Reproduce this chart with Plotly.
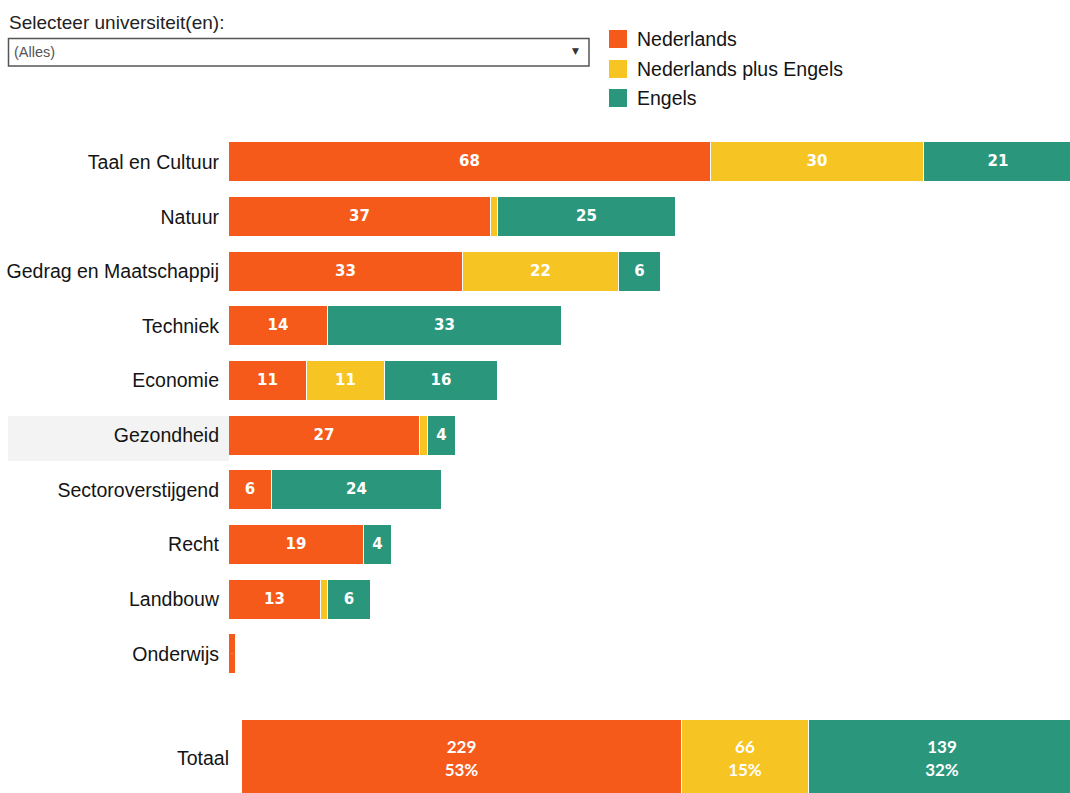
import plotly.graph_objects as go

# ---- data ----
categories = ["Taal en Cultuur", "Natuur", "Gedrag en Maatschappij", "Techniek", "Economie",
              "Gezondheid", "Sectoroverstijgend", "Recht", "Landbouw", "Onderwijs"]
nederlands = [68, 37, 33, 14, 11, 27, 6, 19, 13, 1]
ned_plus_engels = [30, 1, 22, 0, 11, 1, 0, 0, 1, 0]
engels = [21, 25, 6, 33, 16, 4, 24, 4, 6, 0]
series_names = ["Nederlands", "Nederlands plus Engels", "Engels"]
colors = ["#F55A1B", "#F7C523", "#2A977D"]
total_label = "Totaal"

W, H = 1070, 793
def px(x):
    return x / W
def py(y):
    return 1 - y / H

series = [nederlands, ned_plus_engels, engels]
totals = [sum(s) for s in series]
grand = sum(totals)

fig = go.Figure()
for i, (name, vals, col) in enumerate(zip(series_names, series, colors)):
    if i == 0:
        txt = [str(v) if v > 0 else "" for v in vals]
    else:
        txt = [str(v) if v >= 2 else "" for v in vals]
    fig.add_trace(go.Bar(
        y=categories, x=vals, orientation="h", name=name, showlegend=False,
        marker=dict(color=col, line=dict(color="white", width=1)),
        text=txt, textposition="inside", insidetextanchor="middle", textangle=0,
        textfont=dict(family="DejaVu Sans", size=15, color="white", weight="bold"),
        width=0.73, xaxis="x", yaxis="y", hoverinfo="x+y+name",
    ))
for i, (name, col) in enumerate(zip(series_names, colors)):
    pct = round(100 * totals[i] / grand)
    fig.add_trace(go.Bar(
        y=[total_label], x=[totals[i]], orientation="h", name=name, showlegend=False,
        marker=dict(color=col, line=dict(color="white", width=1)),
        text=[f"{totals[i]}<br>{pct}%"], textposition="inside", insidetextanchor="middle",
        textangle=0,
        textfont=dict(family="Lato", size=17, color="white", weight="bold"),
        width=1.0, xaxis="x2", yaxis="y2",
    ))

label_font = dict(family="Liberation Sans, Arial", size=19.5, color="#141414")

shapes = [
    dict(type="rect", xref="paper", yref="paper", x0=px(8), x1=px(229), y0=py(461), y1=py(416),
         fillcolor="#F3F3F3", line=dict(width=0), layer="below"),
    dict(type="rect", xref="paper", yref="paper", x0=px(8.5), x1=px(589), y0=py(66), y1=py(38.5),
         fillcolor="white", line=dict(color="#555555", width=1.5)),
]
annotations = [
    dict(text="Selecteer universiteit(en):", x=px(7), y=py(22), xref="paper", yref="paper",
         xanchor="left", yanchor="middle", showarrow=False,
         font=dict(family="Liberation Sans, Arial", size=19, color="#222222")),
    dict(text="(Alles)", x=px(12), y=py(52), xref="paper", yref="paper",
         xanchor="left", yanchor="middle", showarrow=False,
         font=dict(family="Liberation Sans, Arial", size=14.5, color="#555555")),
    dict(text="▼", x=px(575), y=py(51), xref="paper", yref="paper",
         xanchor="center", yanchor="middle", showarrow=False,
         font=dict(family="DejaVu Sans", size=9, color="#333333")),
]
# legend (drawn as swatches + text)
legend_y = [39, 69, 98]
for name, col, ly in zip(series_names, colors, legend_y):
    shapes.append(dict(type="rect", xref="paper", yref="paper", x0=px(609), x1=px(627),
                       y0=py(ly + 9), y1=py(ly - 9), fillcolor=col, line=dict(width=0)))
    annotations.append(dict(text=name, x=px(635), y=py(ly), xref="paper", yref="paper",
                            xanchor="left", yanchor="middle", showarrow=False,
                            font=dict(family="Liberation Sans, Arial", size=19.5, color="#141414")))

fig.update_layout(
    width=W, height=H, autosize=False,
    margin=dict(l=0, r=0, t=0, b=0),
    paper_bgcolor="white", plot_bgcolor="rgba(0,0,0,0)",
    barmode="stack", bargap=0,
    showlegend=False,
    xaxis=dict(domain=[px(229), 1], range=[0, 841 / 7.09], visible=False, fixedrange=True),
    yaxis=dict(domain=[py(681.3), py(134.7)], categoryorder="array", categoryarray=categories,
               range=[9.5, -0.5], showgrid=False, zeroline=False, showline=False, ticks="",
               tickfont=label_font, ticklabelstandoff=9, anchor="x"),
    xaxis2=dict(domain=[px(242), 1], range=[0, 431], visible=False, anchor="y2"),
    yaxis2=dict(domain=[0, py(720)], range=[-0.45, 0.5], showgrid=False, zeroline=False,
                showline=False, ticks="", tickfont=label_font, ticklabelstandoff=12, anchor="x2"),
    shapes=shapes,
    annotations=annotations,
)

fig.write_html("out.html", config={"displayModeBar": False},
               post_script="document.body.style.margin='0';document.body.style.overflow='hidden';")
